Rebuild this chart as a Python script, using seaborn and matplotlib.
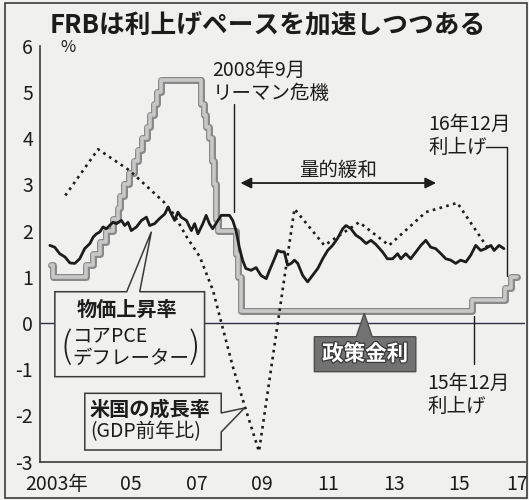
import matplotlib
matplotlib.use('Agg')
import matplotlib.pyplot as plt
import matplotlib.patheffects as pe
from matplotlib.patches import Polygon, Rectangle
from matplotlib.transforms import ScaledTranslation
import pandas as pd
import seaborn as sns

# values (decimal years, %)
# policy rate (step line)
rate_t = [2003.08, 2003.12, 2004.12, 2004.35, 2004.55, 2004.75, 2004.95, 2005.10,
          2005.18, 2005.28, 2005.45, 2005.60, 2005.70, 2005.85, 2005.98, 2006.08,
          2006.20, 2006.30, 2006.42, 2007.64, 2007.73, 2007.80, 2007.88, 2007.98,
          2008.04, 2008.09, 2008.14, 2008.70, 2008.77, 2008.84, 2015.90, 2016.90,
          2017.07, 2017.25]
rate_v = [1.25, 1.00, 1.25, 1.50, 1.75, 2.00, 2.25, 2.50,
          2.75, 3.00, 3.25, 3.50, 3.75, 4.00, 4.25, 4.50,
          4.75, 5.00, 5.25, 4.75, 4.50, 4.25, 4.00, 3.50,
          3.00, 2.25, 2.00, 1.50, 1.00, 0.25, 0.50, 0.75,
          1.00, 1.00]

# core PCE deflator
pce_t = [2003.03, 2003.18, 2003.33, 2003.49, 2003.64, 2003.79, 2003.94, 2004.09,
         2004.25, 2004.35, 2004.45, 2004.55, 2004.65, 2004.75, 2004.85, 2004.95,
         2005.06, 2005.21, 2005.31, 2005.41, 2005.51, 2005.67, 2005.82, 2005.97,
         2006.07, 2006.22, 2006.37, 2006.53, 2006.63, 2006.73, 2006.83, 2006.93,
         2007.03, 2007.19, 2007.34, 2007.44, 2007.54, 2007.69, 2007.79, 2007.89,
         2007.99, 2008.15, 2008.25, 2008.50, 2008.60, 2008.70, 2008.80, 2008.90,
         2009.00, 2009.16, 2009.31, 2009.46, 2009.62, 2009.72, 2009.87, 2009.97,
         2010.07, 2010.17, 2010.27, 2010.38, 2010.48, 2010.58, 2010.73, 2010.88,
         2011.03, 2011.19, 2011.34, 2011.49, 2011.64, 2011.79, 2011.95, 2012.05,
         2012.20, 2012.35, 2012.50, 2012.66, 2012.81, 2012.96, 2013.16, 2013.31,
         2013.47, 2013.62, 2013.72, 2013.87, 2014.02, 2014.18, 2014.33, 2014.48,
         2014.63, 2014.78, 2014.94, 2015.09, 2015.24, 2015.39, 2015.54, 2015.70,
         2015.85, 2016.00, 2016.15, 2016.30, 2016.46, 2016.56, 2016.71, 2016.86]
pce_v = [1.68, 1.64, 1.50, 1.43, 1.30, 1.29, 1.39, 1.61,
         1.72, 1.86, 1.93, 1.97, 2.08, 2.04, 2.11, 2.18,
         2.15, 2.22, 2.11, 2.18, 2.00, 2.08, 2.22, 2.29,
         2.11, 2.15, 2.26, 2.36, 2.51, 2.36, 2.22, 2.40,
         2.29, 2.22, 2.00, 2.15, 1.93, 2.15, 2.33, 2.15,
         2.04, 2.22, 2.33, 2.33, 2.22, 2.00, 1.64, 1.36,
         1.18, 1.14, 1.20, 1.03, 0.96, 1.14, 1.39, 1.57,
         1.54, 1.54, 1.25, 1.29, 1.36, 1.29, 1.03, 0.89,
         1.03, 1.18, 1.39, 1.57, 1.68, 1.83, 2.04, 2.11,
         2.04, 1.90, 1.83, 1.72, 1.79, 1.70, 1.54, 1.39,
         1.39, 1.50, 1.39, 1.50, 1.39, 1.54, 1.68, 1.79,
         1.64, 1.61, 1.50, 1.39, 1.36, 1.29, 1.36, 1.32,
         1.47, 1.68, 1.57, 1.61, 1.68, 1.57, 1.68, 1.61]

# real GDP growth, year on year
gdp_t = [2003.50, 2004.50, 2005.46, 2006.50, 2006.80, 2007.20, 2007.60, 2008.00,
         2008.60, 2009.00, 2009.40, 2010.48, 2011.39, 2012.45, 2013.36, 2014.48,
         2015.44, 2016.35]
gdp_v = [2.76, 3.76, 3.30, 2.62, 2.36, 1.86, 1.43, 0.70,
         -0.94, -1.88, -2.78, 2.47, 1.68, 2.18, 1.68, 2.40,
         2.60, 1.64]

year_ticks = list(range(2004, 2018))
label_pos = [2003.5, 2005.5, 2007.5, 2009.5, 2011.5, 2013.5, 2015.5, 2017.5]
label_txt = ['2003年', '05', '07', '09', '11', '13', '15', '17']
y_ticks = list(range(-3, 7))

bg = '#f0f0ee'
ink = '#1c1c1c'
frame = '#3a3a3a'

sns.set_style('white')
plt.rcParams['font.family'] = ['Noto Sans CJK JP', 'DejaVu Sans']
plt.rcParams['axes.unicode_minus'] = False

fig = plt.figure(figsize=(5.29, 5.0), dpi=100, facecolor=bg)
ax = fig.add_axes([0.0756, 0.0768, 0.9168, 0.8316], facecolor=bg)

rate = pd.DataFrame({'t': rate_t, 'v': rate_v})
pce = pd.DataFrame({'t': pce_t, 'v': pce_v})
gdp = pd.DataFrame({'t': gdp_t, 'v': gdp_v})

ax.axhline(0, color='#2f2f48', lw=1.0, zorder=2)

sns.lineplot(data=rate, x='t', y='v', ax=ax, estimator=None, drawstyle='steps-post',
             color='#c8c8c8', lw=2.6, zorder=3,
             path_effects=[pe.Stroke(linewidth=5.0, foreground='#888888'), pe.Normal()])
sns.lineplot(data=gdp, x='t', y='v', ax=ax, estimator=None, color=ink,
             lw=1.9, linestyle=':', zorder=4)
sns.lineplot(data=pce, x='t', y='v', ax=ax, estimator=None, color=ink,
             lw=2.0, zorder=5)

ax.set_xlim(2002.73, 2017.47)
ax.set_ylim(-3, 6)
ax.set_xlabel('')
ax.set_ylabel('')

## axes and ticks
sns.despine(ax=ax)
for s in ['left', 'bottom']:
    ax.spines[s].set_color(frame)
    ax.spines[s].set_linewidth(1.2)
ax.set_xticks(label_pos)
ax.set_xticklabels(label_txt)
ax.set_xticks(year_ticks, minor=True)
ax.tick_params(axis='x', which='major', length=0, pad=9, labelsize=14, labelcolor=ink)
ax.tick_params(axis='x', which='minor', length=5, width=1, direction='out', color=frame)
ax.set_yticks(y_ticks)
ax.tick_params(axis='y', length=5, width=1, direction='in', pad=5, labelsize=14,
               labelcolor=ink, color=frame)
# first and last labels sit a little left of their year
xl = ax.get_xticklabels()
xl[0].set_transform(xl[0].get_transform() + ScaledTranslation(-0.085, 0, fig.dpi_scale_trans))
xl[-1].set_transform(xl[-1].get_transform() + ScaledTranslation(-0.075, 0, fig.dpi_scale_trans))

## annotations
# Lehman
ax.text(2007.985, 5.22, '2008年9月\nリーマン危機', fontsize=14, color=ink,
        ha='left', va='center', linespacing=1.15)
ax.plot([2008.653, 2008.653], [4.74, 2.41], color=ink, lw=1.0)

# QE arrow
ax.text(2011.815, 3.31, '量的緩和', fontsize=14, color=ink, ha='center', va='center')
ax.annotate('', xy=(2008.836, 3.03), xytext=(2014.793, 3.03),
            arrowprops=dict(arrowstyle='<|-|>', color=ink, lw=1.3, mutation_scale=16,
                            shrinkA=0, shrinkB=0))

# rate hikes
ax.text(2014.55, 4.05, '16年12月\n利上げ', fontsize=14, color=ink,
        ha='left', va='center', linespacing=1.15)
ax.plot([2016.313, 2016.951, 2016.951], [3.80, 3.80, 1.02], color=ink, lw=1.0)
ax.text(2014.52, -1.56, '15年12月\n利上げ', fontsize=14, color=ink,
        ha='left', va='center', linespacing=1.15)
ax.plot([2015.95, 2015.95], [0.15, -0.89], color=ink, lw=1.0)

# core PCE callout
ax.add_patch(Polygon([(2003.182, 0.677), (2005.371, 0.677), (2006.122, 1.976),
                      (2005.766, 0.677), (2007.742, 0.677), (2007.742, -1.162),
                      (2003.182, -1.162)], closed=True, fc=bg, ec=frame, lw=1.1, zorder=6))
ax.text(2005.386, 0.303, '物価上昇率', fontsize=14.5, weight='bold', color=ink,
        ha='center', va='center', zorder=7)
ax.text(2003.73, -0.281, 'コアPCE', fontsize=14, color=ink, ha='left', va='center', zorder=7)
ax.text(2003.73, -0.758, 'デフレーター', fontsize=14, color=ink, ha='left', va='center', zorder=7)
ax.text(2003.532, -0.53, '(', fontsize=26, weight='light', color=ink,
        ha='center', va='center', zorder=7)
ax.text(2007.438, -0.53, ')', fontsize=26, weight='light', color=ink,
        ha='center', va='center', zorder=7)

# GDP callout
ax.add_patch(Polygon([(2004.094, -1.522), (2008.249, -1.522), (2008.249, -1.948),
                      (2008.957, -1.840), (2008.249, -2.359), (2008.249, -2.749),
                      (2004.094, -2.749)], closed=True, fc=bg, ec=frame, lw=1.1, zorder=6))
ax.text(2004.246, -1.861, '米国の成長率', fontsize=14.5, weight='bold', color=ink,
        ha='left', va='center', zorder=7)
ax.text(2004.246, -2.359, '(GDP前年比)', fontsize=14, color=ink,
        ha='left', va='center', zorder=7)

# policy rate label
ax.add_patch(Polygon([(2011.085, -0.297), (2012.362, -0.297), (2012.605, 0.21),
                      (2012.848, -0.297), (2014.176, -0.297), (2014.176, -1.054),
                      (2011.085, -1.054)], closed=True, fc='#727272', ec='#4e4e4e',
                     lw=1.0, zorder=6))
ax.text(2012.63, -0.671, '政策金利', fontsize=15.5, weight='bold', color='white',
        ha='center', va='center', zorder=7,
        path_effects=[pe.Stroke(linewidth=1.8, foreground='#3a3a3a'), pe.Normal()])

## title, unit, frame
fig.text(50 / 529, 1 - 26 / 500, 'FRBは利上げペースを加速しつつある', fontsize=18.5,
         weight='bold', color=ink, ha='left', va='center')
fig.text(68 / 529, 1 - 47 / 500, '%', fontsize=12, color=ink, ha='center', va='center')
fig.add_artist(Rectangle((5 / 529, 2 / 500), 522 / 529, 495 / 500, transform=fig.transFigure,
                         fill=False, ec=frame, lw=1.2))

plt.savefig('out.png', dpi=100, facecolor=bg)
